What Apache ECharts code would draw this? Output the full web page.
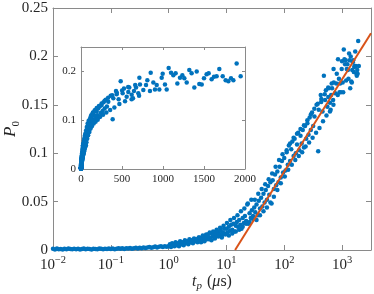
<!DOCTYPE html>
<html><head><meta charset="utf-8">
<script src="https://cdn.jsdelivr.net/npm/echarts@6/dist/echarts.min.js"></script>
<style>html,body{margin:0;padding:0;background:#fff}#c{width:374px;height:294px}</style>
</head><body><div id="c"></div>
<script>
// ---- data (t_p in microseconds, P0) ----
const tpFlat = [0.0100,0.0108,0.0117,0.0126,0.0136,0.0147,0.0158,0.0171,0.0185,0.0200,0.0215,0.0232,0.0251,0.0271,0.0293,0.0316,0.0341,0.0368,0.0398,0.0430,0.0464,0.0501,0.0541,0.0584,0.0631,0.0681,0.0736,0.0794,0.0858,0.0926,
  0.100,0.108,0.117,0.126,0.136,0.147,0.158,0.171,0.185,0.200,0.215,0.232,0.251,0.271,0.293,0.316,0.341,0.368,0.398,0.430,0.464,0.501,0.541,0.584,0.631,0.681,0.736,0.794,0.858,0.926];
const p0Flat = [0.0012,0.0006,0.0015,0.0009,0.0011,0.0004,0.0013,0.0008,0.0016,0.0010,0.0007,0.0014,0.0009,0.0012,0.0005,0.0011,0.0015,0.0008,0.0013,0.0010,0.0006,0.0014,0.0011,0.0009,0.0016,0.0012,0.0007,0.0013,0.0010,0.0015,
  0.0011,0.0016,0.0009,0.0014,0.0018,0.0012,0.0017,0.0010,0.0019,0.0015,0.0021,0.0013,0.0018,0.0024,0.0016,0.0022,0.0019,0.0027,0.0020,0.0025,0.0031,0.0023,0.0029,0.0035,0.0026,0.0033,0.0040,0.0030,0.0038,0.0034];
const tpRise = [1.00,1.05,1.10,1.15,1.20,1.26,1.32,1.38,1.45,1.51,1.58,1.66,1.74,1.82,1.91,2.00,2.09,2.19,2.29,2.40,2.51,2.63,2.75,2.88,3.02,3.16,3.31,3.47,3.63,3.80,3.98,4.17,4.37,4.57,4.79,5.01,5.25,5.50,5.75,6.03,6.31,6.61,6.92,7.24,7.59,7.94,8.32,8.71,9.12,9.55,
  10.0,10.5,11.0,11.5,12.0,12.6,13.2,13.8,14.5,15.1,15.8,16.6,17.4,18.2,19.1,20.0,20.9,21.9,22.9,24.0,25.1,26.3,27.5,28.8,30.2,31.6,33.1,34.7,36.3,38.0,39.8,41.7,43.7,45.7,47.9,50.1,52.5,55.0,57.5,60.3,63.1,66.1,69.2,72.4,75.9,79.4,83.2,87.1,91.2,95.5,
  100,105,110,115,120,126,132,138,145,151,158,166,174,182,191,200,209,219,229,240,251,263,275,288,302,316];
const p0Rise = [0.004,0.006,0.003,0.007,0.005,0.004,0.008,0.005,0.007,0.004,0.009,0.006,0.008,0.005,0.010,0.007,0.009,0.006,0.011,0.008,0.010,0.007,0.012,0.009,0.011,0.008,0.013,0.010,0.012,0.009,0.014,0.011,0.015,0.012,0.016,0.013,0.011,0.017,0.014,0.016,0.013,0.018,0.015,0.019,0.016,0.020,0.015,0.018,0.022,0.017,
  0.022,0.018,0.024,0.020,0.026,0.021,0.027,0.019,0.025,0.029,0.024,0.031,0.026,0.022,0.033,0.028,0.035,0.030,0.047,0.027,0.038,0.033,0.041,0.035,0.044,0.039,0.047,0.036,0.051,0.043,0.054,0.045,0.058,0.049,0.062,0.052,0.066,0.057,0.070,0.048,0.072,0.063,0.078,0.067,0.081,0.070,0.086,0.075,0.092,0.080,
  0.095,0.082,0.101,0.088,0.108,0.092,0.104,0.112,0.097,0.115,0.100,0.109,0.121,0.103,0.118,0.110,0.124,0.106,0.128,0.115,0.131,0.119,0.137,0.124,0.142,0.128];
const tpMid = [3.39,3.63,3.89,4.17,4.47,4.79,5.13,5.50,5.89,6.31,6.76,7.24,7.76,8.32,8.91,9.55,
  10.2,11.0,11.7,12.6,13.5,14.5,15.5,16.6,17.8,19.1,20.4,21.9,23.4,25.1,26.9,28.8,30.9,33.1,35.5,38.0,40.7,43.7,46.8,50.1,53.7,57.5,61.7,66.1,70.8,75.9,81.3,87.1,93.3,
  102,110,117,126,135,145,155,166,178,191,204,219,234,251,269,288,309,331,355,380,407,437,468,501,537,575,617,661,708];
const p0Mid = [0.013,0.008,0.015,0.009,0.016,0.011,0.018,0.010,0.019,0.012,0.021,0.014,0.023,0.013,0.025,0.016,
  0.028,0.015,0.031,0.017,0.033,0.019,0.036,0.021,0.040,0.024,0.043,0.027,0.048,0.029,0.052,0.032,0.052,0.031,0.058,0.036,0.063,0.040,0.068,0.044,0.073,0.049,0.079,0.055,0.086,0.062,0.093,0.069,0.099,
  0.076,0.103,0.083,0.110,0.088,0.116,0.093,0.120,0.097,0.125,0.101,0.129,0.107,0.134,0.111,0.140,0.116,0.146,0.121,0.151,0.126,0.156,0.133,0.161,0.139,0.168,0.143,0.172,0.150];
const tpLate = [333,362,386,394,427,435,459,484,508,524,557,577,589,618,634,646,671,699,712,719,760,793,809,841,850,882,902,923,955,984,996,1024,1045,1069,1098,1126,1154,1175,1207,1236,1260,1289,1321,1349,1382,1411,1443,1472,1500,1532,1557,1593,1622,1654,1687,1728,1764,1797,1829,1858,1898,1947];
const p0Late = [0.138,0.150,0.102,0.145,0.160,0.153,0.143,0.180,0.155,0.165,0.148,0.158,0.167,0.152,0.145,0.160,0.167,0.155,0.187,0.173,0.162,0.172,0.182,0.160,0.197,0.177,0.163,0.172,0.163,0.187,0.195,0.173,0.163,0.207,0.197,0.192,0.196,0.175,0.187,0.192,0.186,0.177,0.203,0.196,0.167,0.200,0.174,0.173,0.186,0.194,0.196,0.184,0.189,0.190,0.205,0.190,0.182,0.180,0.186,0.182,0.216,0.190];
// linear fit (in log t_p) shown in orange: endpoints
const fitTp = [14.1, 3162];
const fitP0 = [0, 0.224];
// tick labels
const mainXExps = [-2, -1, 0, 1, 2, 3];
const mainYTicks = ['0','0.05','0.1','0.15','0.2','0.25'];
const insetXTicks = ['0','500','1000','1500','2000'];
const insetYTicks = ['0','0.1','0.2'];

const tp = tpFlat.concat(tpRise, tpMid, tpLate);
const p0 = p0Flat.concat(p0Rise, p0Mid, p0Late);
const pts = tp.map((t, i) => [t, p0[i]]);
const fitPts = fitTp.map((t, i) => [t, fitP0[i]]);

const FONT = '"Liberation Serif", "DejaVu Serif", serif';
const TXT = '#262626';
const AX = '#8a8a8a';
const BLUE = '#0072BD';
const ORANGE = '#D95319';

function line() { return { show: true, onZero: false, lineStyle: { color: AX, width: 1 } }; }
function tick(len) { return { show: true, inside: true, length: len, lineStyle: { color: AX, width: 1 } }; }

const chart = echarts.init(document.getElementById('c'), null, { renderer: 'canvas' });
chart.setOption({
  animation: false,
  backgroundColor: '#fff',
  grid: [
    { left: 53, top: 8, right: 3, bottom: 44, containLabel: false, outerBoundsMode: 'none' },
    { left: 81, top: 47, width: 164, height: 122, backgroundColor: '#fff', show: true, borderWidth: 0,
      containLabel: false, outerBoundsMode: 'none' }
  ],
  xAxis: [
    { type: 'log', logBase: 10, gridIndex: 0, min: 0.01, max: 3162.28, position: 'bottom',
      axisLine: line(), axisTick: tick(5), splitLine: { show: false }, minorTick: { show: false },
      axisLabel: { margin: 5, color: TXT, hideOverlap: false,
        formatter: v => { const e = Math.log10(v); const r = Math.round(e);
          if (Math.abs(e - r) > 1e-6 || mainXExps.indexOf(r) < 0) return '';
          return '{b|10}{s|' + (r < 0 ? '\u2212' : '') + Math.abs(r) + '}'; },
        rich: { b: { fontFamily: FONT, fontSize: 15, color: TXT, lineHeight: 18, verticalAlign: 'bottom' },
                s: { fontFamily: FONT, fontSize: 10.5, color: TXT, lineHeight: 18, verticalAlign: 'top' } } },
      name: '{i|t}{sub|p}{n| (}{i|\u03bc}{n|s)}', nameLocation: 'middle', nameGap: 22, nameMoveOverlap: false,
      nameTextStyle: { rich: {
        i: { fontFamily: FONT, fontStyle: 'italic', fontSize: 16, color: TXT, lineHeight: 20, verticalAlign: 'middle' },
        n: { fontFamily: FONT, fontSize: 16, color: TXT, lineHeight: 20, verticalAlign: 'middle' },
        sub: { fontFamily: FONT, fontStyle: 'italic', fontSize: 11, color: TXT, lineHeight: 20, verticalAlign: 'bottom', padding: [0,1,0,0] } } } },
    { type: 'log', logBase: 10, gridIndex: 0, min: 0.01, max: 3162.28, position: 'top',
      axisLine: line(), axisTick: tick(5), axisLabel: { show: false }, splitLine: { show: false } },
    { type: 'value', gridIndex: 1, min: 0, max: 2000, interval: 500, position: 'bottom',
      axisLine: line(), axisTick: tick(3), splitLine: { show: false },
      axisLabel: { margin: 5, color: TXT, fontFamily: FONT, fontSize: 11, hideOverlap: false,
        formatter: v => { const s = String(v); return insetXTicks.indexOf(s) >= 0 ? s : ''; } } },
    { type: 'value', gridIndex: 1, min: 0, max: 2000, interval: 500, position: 'top',
      axisLine: line(), axisTick: tick(3), axisLabel: { show: false }, splitLine: { show: false } }
  ],
  yAxis: [
    { type: 'value', gridIndex: 0, min: 0, max: 0.25, interval: 0.05, position: 'left',
      axisLine: line(), axisTick: tick(5), splitLine: { show: false },
      axisLabel: { margin: 5, color: TXT, fontFamily: FONT, fontSize: 15, hideOverlap: false,
        formatter: v => { const s = String(+v.toFixed(4)); return mainYTicks.indexOf(s) >= 0 ? s : ''; } },
      name: '{i|P}{sub|0}', nameLocation: 'middle', nameGap: 31, nameRotate: 90, nameMoveOverlap: false,
      nameTextStyle: { rich: {
        i: { fontFamily: FONT, fontStyle: 'italic', fontSize: 17, color: TXT, lineHeight: 22, verticalAlign: 'middle' },
        sub: { fontFamily: FONT, fontSize: 11, color: TXT, lineHeight: 22, verticalAlign: 'bottom' } } } },
    { type: 'value', gridIndex: 0, min: 0, max: 0.25, interval: 0.05, position: 'right',
      axisLine: line(), axisTick: tick(5), axisLabel: { show: false }, splitLine: { show: false } },
    { type: 'value', gridIndex: 1, min: 0, max: 0.25, interval: 0.1, position: 'left',
      axisLine: line(), axisTick: tick(3), splitLine: { show: false },
      axisLabel: { margin: 5, color: TXT, fontFamily: FONT, fontSize: 11, hideOverlap: false,
        formatter: v => { const s = String(+v.toFixed(4)); return insetYTicks.indexOf(s) >= 0 ? s : ''; } } },
    { type: 'value', gridIndex: 1, min: 0, max: 0.25, interval: 0.1, position: 'right',
      axisLine: line(), axisTick: tick(3), axisLabel: { show: false }, splitLine: { show: false } }
  ],
  series: [
    { type: 'scatter', xAxisIndex: 0, yAxisIndex: 0, data: pts, symbol: 'circle', symbolSize: 4.5,
      itemStyle: { color: BLUE, opacity: 1 }, silent: true },
    { type: 'line', xAxisIndex: 0, yAxisIndex: 0, data: fitPts, showSymbol: false, symbol: 'none',
      lineStyle: { color: ORANGE, width: 2 }, silent: true, z: 3 },
    { type: 'scatter', xAxisIndex: 2, yAxisIndex: 2, data: pts, symbol: 'circle', symbolSize: 4.5,
      itemStyle: { color: BLUE, opacity: 1 }, silent: true, z: 4 }
  ]
});
</script></body></html>
